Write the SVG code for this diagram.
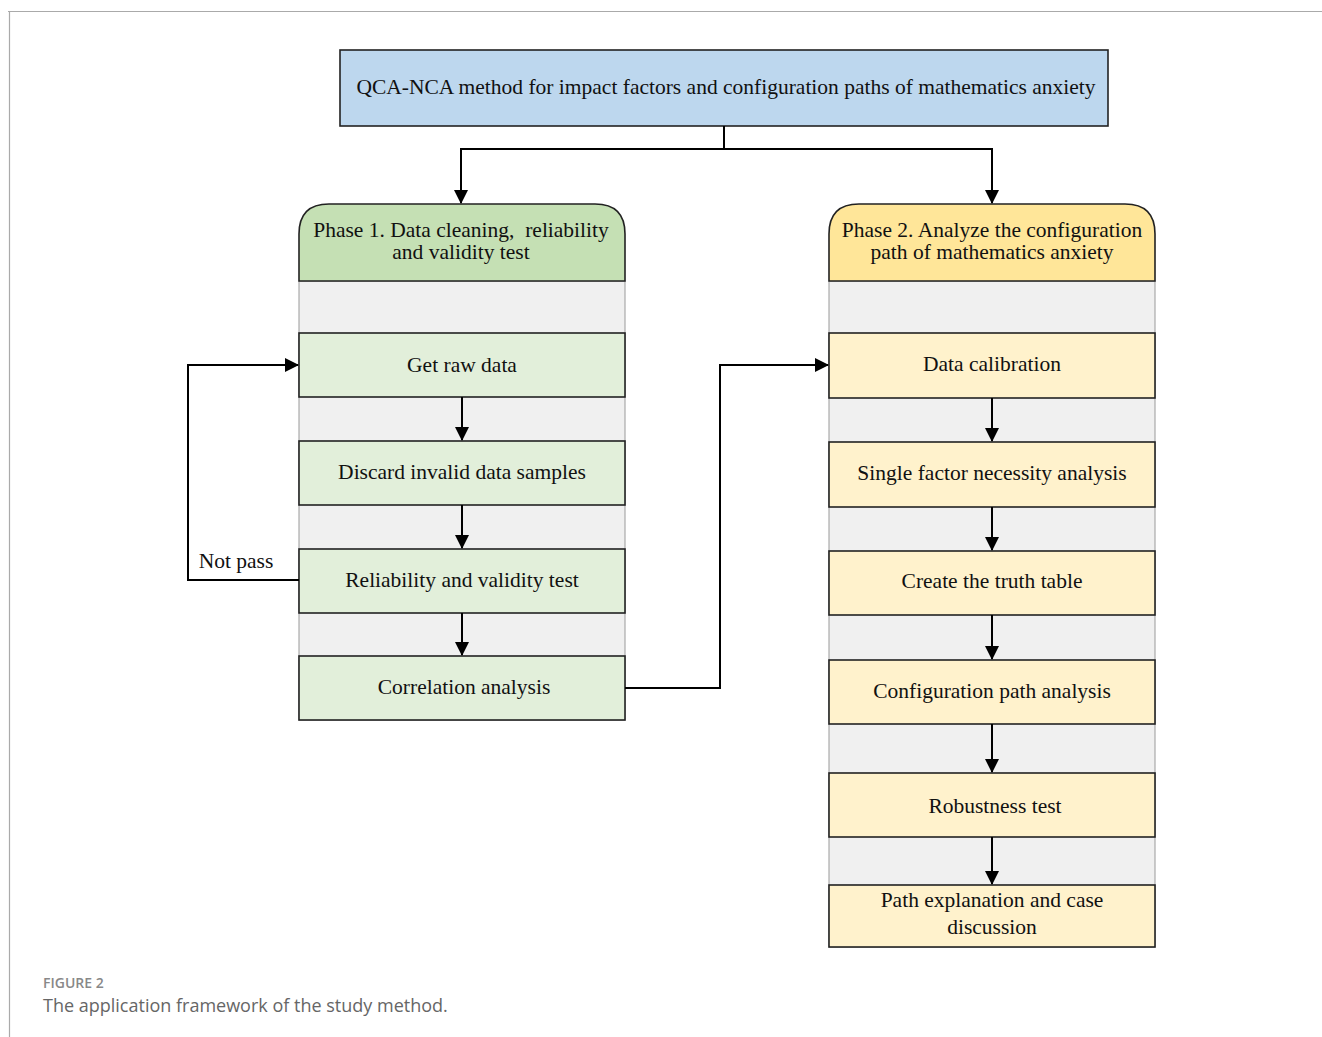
<svg xmlns="http://www.w3.org/2000/svg" width="1322" height="1037" viewBox="0 0 1322 1037">
<defs>
<marker id="ah" markerWidth="14" markerHeight="14" refX="13" refY="7" orient="auto" markerUnits="userSpaceOnUse">
<path d="M0,0 L14,7 L0,14 Z" fill="#000"/>
</marker>
<style>
.t{font-family:"Liberation Serif","Times New Roman",serif;font-size:21.5px;fill:#111;text-anchor:middle}
.ln{fill:none;stroke:#000;stroke-width:2}
.col{fill:#F0F0F0;stroke:#9a9a9a;stroke-width:1}
.g{fill:#E2EFDA;stroke:#222;stroke-width:1.6}
.y{fill:#FFF2CC;stroke:#222;stroke-width:1.6}
.cap1{font-family:"Open Sans","Liberation Sans",sans-serif;font-size:14px;font-weight:600;fill:#888}
.cap2{font-family:"Open Sans","Liberation Sans",sans-serif;font-size:18px;fill:#666}
</style>
</defs>
<rect width="1322" height="1037" fill="#fff"/>
<path d="M8,11.5 H1322 M9.5,11 V1037" stroke="#aaa" stroke-width="1.2" fill="none"/>

<g id="title">
<rect x="340" y="50" width="768" height="76" fill="#BDD7EE" stroke="#222" stroke-width="1.6"/>
<text class="t" x="726" y="94">QCA-NCA method for impact factors and configuration paths of mathematics anxiety</text>
</g>

<g id="phase1">
<rect class="col" x="299" y="281" width="326" height="439"/>
<path d="M299,281 V234 Q299,204 329,204 H595 Q625,204 625,234 V281 Z" fill="#C5E0B4" stroke="#222" stroke-width="1.6"/>
<text class="t" x="461" y="237" xml:space="preserve">Phase 1. Data cleaning,  reliability</text>
<text class="t" x="461" y="259">and validity test</text>
</g>
<g id="p1n1"><rect class="g" x="299" y="333" width="326" height="64"/><text class="t" x="462" y="372">Get raw data</text></g>
<g id="p1n2"><rect class="g" x="299" y="441" width="326" height="64"/><text class="t" x="462" y="479">Discard invalid data samples</text></g>
<g id="p1n3"><rect class="g" x="299" y="549" width="326" height="64"/><text class="t" x="462" y="587">Reliability and validity test</text></g>
<g id="p1n4"><rect class="g" x="299" y="656" width="326" height="64"/><text class="t" x="464" y="694">Correlation analysis</text></g>

<g id="phase2">
<rect class="col" x="829" y="281" width="326" height="666"/>
<path d="M829,281 V234 Q829,204 859,204 H1125 Q1155,204 1155,234 V281 Z" fill="#FFE699" stroke="#222" stroke-width="1.6"/>
<text class="t" x="992" y="237">Phase 2. Analyze the configuration</text>
<text class="t" x="992" y="259">path of mathematics anxiety</text>
</g>
<g id="p2n1"><rect class="y" x="829" y="333" width="326" height="65"/><text class="t" x="992" y="371">Data calibration</text></g>
<g id="p2n2"><rect class="y" x="829" y="442" width="326" height="65"/><text class="t" x="992" y="480">Single factor necessity analysis</text></g>
<g id="p2n3"><rect class="y" x="829" y="551" width="326" height="64"/><text class="t" x="992" y="588">Create the truth table</text></g>
<g id="p2n4"><rect class="y" x="829" y="660" width="326" height="64"/><text class="t" x="992" y="698">Configuration path analysis</text></g>
<g id="p2n5"><rect class="y" x="829" y="773" width="326" height="64"/><text class="t" x="995" y="813">Robustness test</text></g>
<g id="p2n6"><rect class="y" x="829" y="885" width="326" height="62"/><text class="t" x="992" y="907">Path explanation and case</text><text class="t" x="992" y="934">discussion</text></g>

<g id="connectors">
<path class="ln" d="M724,126 V149"/>
<path class="ln" d="M724,149 H461 V203" marker-end="url(#ah)"/>
<path class="ln" d="M724,149 H992 V203" marker-end="url(#ah)"/>
<path class="ln" d="M462,397 V440" marker-end="url(#ah)"/>
<path class="ln" d="M462,505 V548" marker-end="url(#ah)"/>
<path class="ln" d="M462,613 V655" marker-end="url(#ah)"/>
<path class="ln" d="M299,580 H188 V365 H298" marker-end="url(#ah)"/>
<path class="ln" d="M625,688 H720 V365 H828" marker-end="url(#ah)"/>
<path class="ln" d="M992,398 V441" marker-end="url(#ah)"/>
<path class="ln" d="M992,507 V550" marker-end="url(#ah)"/>
<path class="ln" d="M992,615 V659" marker-end="url(#ah)"/>
<path class="ln" d="M992,724 V772" marker-end="url(#ah)"/>
<path class="ln" d="M992,837 V884" marker-end="url(#ah)"/>
<text class="t" x="236" y="568">Not pass</text>
</g>

<text class="cap1" x="43" y="988">FIGURE 2</text>
<text class="cap2" x="43" y="1012">The application framework of the study method.</text>
</svg>
